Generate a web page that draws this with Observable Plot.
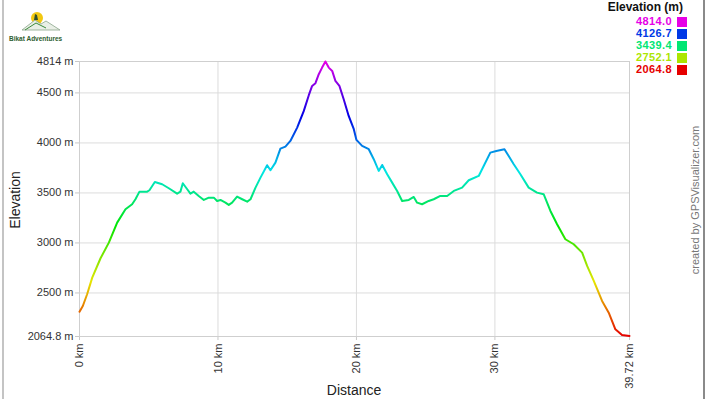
<!DOCTYPE html>
<html>
<head>
<meta charset="utf-8">
<script src="https://cdn.jsdelivr.net/npm/d3@7"></script>
<script src="https://cdn.jsdelivr.net/npm/@observablehq/plot@0.6"></script>
<style>
  html, body { margin: 0; padding: 0; background: #fff; }
  #wrap { position: relative; width: 709px; height: 399px; overflow: hidden; font-family: "Liberation Sans", Arial, sans-serif; }
  #wrap svg.plot { position: absolute; left: 0; top: 0; }
  [aria-label^="y-axis"] line, [aria-label^="x-axis"] line, [aria-label^="x-axis"] path, [aria-label^="y-axis"] path { stroke: #c8c8c8; }
  .abs { position: absolute; white-space: nowrap; }
</style>
</head>
<body>
<div id="wrap"></div>
<script>
// ---- data ----
const distanceKm = [0, 0.24, 0.55, 0.92, 1.52, 2.12, 2.72, 3.32, 3.80, 4.04, 4.33, 4.89, 5.05, 5.44, 5.97, 6.45, 7.05, 7.29, 7.46, 7.78, 8.01, 8.25, 8.61, 8.98, 9.34, 9.70, 9.94, 10.18, 10.54, 10.78, 11.02, 11.38, 11.75, 12.11, 12.35, 12.71, 13.07, 13.55, 13.79, 14.15, 14.51, 14.87, 15.23, 15.72, 16.20, 16.56, 16.80, 17.04, 17.28, 17.52, 17.76, 18.00, 18.25, 18.48, 18.77, 19.08, 19.44, 19.81, 20.00, 20.41, 20.89, 21.25, 21.61, 21.86, 22.22, 22.58, 22.94, 23.30, 23.78, 24.14, 24.38, 24.74, 25.22, 25.58, 26.06, 26.55, 27.03, 27.63, 28.11, 28.83, 29.19, 29.67, 30.10, 30.69, 31.36, 31.84, 32.44, 33.04, 33.52, 34.01, 34.49, 35.09, 35.69, 36.30, 36.66, 37.14, 37.74, 38.22, 38.70, 39.18, 39.72];
const elevationM = [2313, 2370, 2487, 2653, 2847, 3003, 3203, 3337, 3387, 3437, 3513, 3513, 3527, 3610, 3587, 3547, 3493, 3513, 3597, 3537, 3493, 3513, 3470, 3430, 3453, 3453, 3420, 3430, 3403, 3380, 3403, 3463, 3437, 3413, 3437, 3553, 3653, 3777, 3727, 3803, 3943, 3963, 4020, 4153, 4320, 4477, 4570, 4597, 4687, 4753, 4814, 4753, 4720, 4620, 4570, 4437, 4270, 4137, 4030, 3970, 3937, 3837, 3720, 3780, 3687, 3603, 3520, 3420, 3430, 3460, 3403, 3387, 3420, 3437, 3470, 3470, 3520, 3553, 3627, 3670, 3770, 3903, 3920, 3937, 3787, 3687, 3553, 3503, 3487, 3320, 3187, 3037, 2987, 2903, 2770, 2620, 2420, 2303, 2137, 2080, 2070];
const elevMin = 2064.8, elevMax = 4814.0, totalKm = 39.72;
const yTicks = [2064.8, 2500, 3000, 3500, 4000, 4500, 4814];
const xTicks = [0, 10, 20, 30, 39.72];
const legendValues = [4814.0, 4126.7, 3439.4, 2752.1, 2064.8];
const legendTitle = "Elevation (m)";
const xLabel = "Distance", yLabel = "Elevation";
const credit = "created by GPSVisualizer.com";
const brand = "Bikat Adventures";

const profile = distanceKm.map((d, i) => ({d, e: elevationM[i]}));

// rainbow by elevation: red (low) -> magenta (high)
const colorOf = v => {
  const t = Math.max(0, Math.min(1, (v - elevMin) / (elevMax - elevMin)));
  return d3.hsl(300 * t, 1, 0.45).formatHex();
};

const plot = Plot.plot({
  width: 709,
  height: 399,
  marginLeft: 79,
  marginRight: 80,
  marginTop: 61,
  marginBottom: 63,
  style: {fontFamily: "'Liberation Sans', Arial, sans-serif", fontSize: "11px", color: "#333", background: "transparent"},
  x: {domain: [0, totalKm], ticks: xTicks, tickFormat: d => `${d} km`, tickRotate: -90, tickSize: 4, tickPadding: 3, label: null},
  y: {domain: [elevMin, elevMax], ticks: yTicks, tickFormat: d => `${d} m`, tickSize: 4, tickPadding: 2, label: null},
  marks: [
    Plot.ruleY(yTicks, {stroke: "#dcdcdc", strokeWidth: 1}),
    Plot.ruleX(xTicks, {stroke: "#dcdcdc", strokeWidth: 1}),
    Plot.frame({stroke: "#cfcfcf"}),
    Plot.line(profile, {x: "d", y: "e", stroke: "url(#elevgrad)", strokeWidth: 2, strokeLinejoin: "round"})
  ]
});
plot.classList.add("plot");

// gradient defined along the y scale
const ys = plot.scale("y");
const ns = "http://www.w3.org/2000/svg";
const defs = document.createElementNS(ns, "defs");
const grad = document.createElementNS(ns, "linearGradient");
grad.setAttribute("id", "elevgrad");
grad.setAttribute("gradientUnits", "userSpaceOnUse");
grad.setAttribute("x1", 0); grad.setAttribute("x2", 0);
grad.setAttribute("y1", ys.apply(elevMin)); grad.setAttribute("y2", ys.apply(elevMax));
for (let k = 0; k <= 20; k++) {
  const st = document.createElementNS(ns, "stop");
  st.setAttribute("offset", k / 20);
  st.setAttribute("stop-color", colorOf(elevMin + (elevMax - elevMin) * k / 20));
  grad.appendChild(st);
}
defs.appendChild(grad);
plot.insertBefore(defs, plot.firstChild);

const wrap = document.getElementById("wrap");
wrap.appendChild(plot);

// borders
const bl = document.createElement("div"); bl.className = "abs";
bl.style.cssText += "left:2px;top:0;width:2px;height:399px;background:#c4c4c4;";
wrap.appendChild(bl);
const br = document.createElement("div"); br.className = "abs";
br.style.cssText += "left:703px;top:0;width:2px;height:399px;background:#8a8a8a;";
wrap.appendChild(br);

// axis titles
const yl = document.createElement("div"); yl.className = "abs"; yl.textContent = yLabel;
yl.style.cssText += "left:15px;top:200px;font-size:14px;line-height:16px;color:#222;transform:translate(-50%,-50%) rotate(-90deg);";
wrap.appendChild(yl);
const xl = document.createElement("div"); xl.className = "abs"; xl.textContent = xLabel;
xl.style.cssText += "left:354px;top:382px;font-size:14px;line-height:16px;color:#222;transform:translateX(-50%);";
wrap.appendChild(xl);

// credit
const cr = document.createElement("div"); cr.className = "abs"; cr.textContent = credit;
cr.style.cssText += "left:695px;top:200px;font-size:11px;line-height:12px;color:#777;transform:translate(-50%,-50%) rotate(-90deg);";
wrap.appendChild(cr);

// legend
const lt = document.createElement("div"); lt.className = "abs"; lt.textContent = legendTitle;
lt.style.cssText += "right:26px;top:1px;font-size:12px;line-height:12px;font-weight:bold;color:#111;";
wrap.appendChild(lt);
legendValues.forEach((v, i) => {
  const row = document.createElement("div"); row.className = "abs";
  row.textContent = v.toFixed(1);
  row.style.cssText += `right:37px;top:${16 + i * 12}px;font-size:11px;line-height:11px;font-weight:bold;letter-spacing:0.4px;color:${colorOf(v)};`;
  wrap.appendChild(row);
  const sw = document.createElement("div"); sw.className = "abs";
  sw.style.cssText += `left:677px;top:${16.5 + i * 12}px;width:10px;height:10px;background:${colorOf(v)};`;
  wrap.appendChild(sw);
});

// brand logo
const logo = document.createElement("div"); logo.className = "abs";
logo.style.cssText += "left:8px;top:8px;width:60px;height:30px;";
logo.innerHTML = `<svg width="60" height="24" viewBox="0 0 60 24">
  <circle cx="29" cy="10" r="6" fill="#f2c811"/>
  <path d="M14 22 L27 12 L33 16 L38 13 L52 22 Z" fill="#e9efe6" stroke="#8aa58a" stroke-width="0.8"/>
  <path d="M17 22 L28 15 L38 20" fill="none" stroke="#3b8a3b" stroke-width="1"/>
  <path d="M26 12 L27 6 L29 7 L30 12" fill="#2f4f2f"/>
</svg><div style="font-size:6.5px;line-height:7px;font-weight:bold;color:#2d5d2d;margin-top:-1px;margin-left:1px;">${brand}</div>`;
wrap.appendChild(logo);
</script>
</body>
</html>
